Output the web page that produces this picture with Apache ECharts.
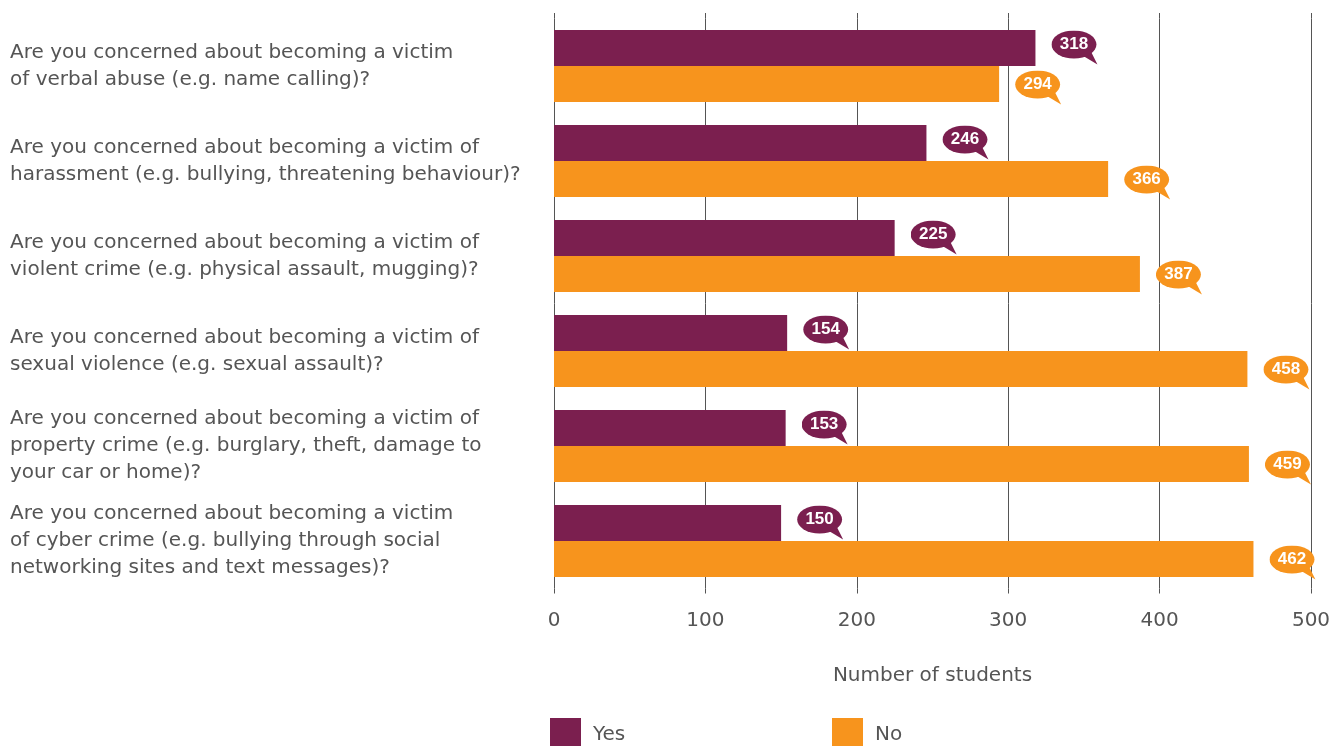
<!DOCTYPE html>
<html>
<head>
<meta charset="utf-8">
<script src="https://cdn.jsdelivr.net/npm/echarts@6/dist/echarts.min.js"></script>
<style>
  html, body { margin: 0; padding: 0; background: #fff; }
  #chart { width: 1336px; height: 746px; }
</style>
</head>
<body>
<div id="chart"></div>
<script>
// survey questions, top to bottom
var questions = [
    'Are you concerned about becoming a victim\nof verbal abuse (e.g. name calling)?',
    'Are you concerned about becoming a victim of\nharassment (e.g. bullying, threatening behaviour)?',
    'Are you concerned about becoming a victim of\nviolent crime (e.g. physical assault, mugging)?',
    'Are you concerned about becoming a victim of\nsexual violence (e.g. sexual assault)?',
    'Are you concerned about becoming a victim of\nproperty crime (e.g. burglary, theft, damage to\nyour car or home)?',
    'Are you concerned about becoming a victim\nof cyber crime (e.g. bullying through social\nnetworking sites and text messages)?'
];
var yesValues = [318, 246, 225, 154, 153, 150];
var noValues = [294, 366, 387, 458, 459, 462];
var seriesNames = ['Yes', 'No'];
var axisTitle = 'Number of students';

var PURPLE = '#7B1F4F';
var ORANGE = '#F7941D';
var TEXT = '#555555';
var FONT = 'DejaVu Sans';

// speech bubble used behind the value labels
function bubble(color) {
    var svg = "<svg xmlns='http://www.w3.org/2000/svg' width='48' height='35' viewBox='0 0 48 35'>" +
        "<path d='M31 25 L46 34 L39 20 Z' fill='" + color + "'/>" +
        "<ellipse cx='22.5' cy='14' rx='22.5' ry='14' fill='" + color + "'/></svg>";
    return 'data:image/svg+xml;charset=utf-8,' + encodeURIComponent(svg);
}

function bubbleLabel(color, dy) {
    return {
        show: true,
        position: 'right',
        distance: 16,
        offset: [0, dy],
        formatter: '{v|{c}}',
        backgroundColor: { image: bubble(color) },
        padding: [0, 3, 7, 0],
        rich: {
            v: {
                width: 45,
                height: 28,
                lineHeight: 28,
                align: 'center',
                verticalAlign: 'middle',
                color: '#fff',
                fontSize: 17,
                fontWeight: 'bold',
                fontFamily: 'Liberation Sans'
            }
        }
    };
}

var chart = echarts.init(document.getElementById('chart'));

var option = {
    animation: false,
    backgroundColor: '#fff',
    grid: { left: 554, right: 25, top: 18.5, height: 570, containLabel: false },
    legend: [
        {
            data: [seriesNames[0]], left: 545, top: 713, icon: 'rect',
            itemWidth: 31, itemHeight: 34,
            textStyle: { fontSize: 20, color: TEXT, fontFamily: FONT, padding: [0, 0, 0, 7] }
        },
        {
            data: [seriesNames[1]], left: 827, top: 713, icon: 'rect',
            itemWidth: 31, itemHeight: 34,
            textStyle: { fontSize: 20, color: TEXT, fontFamily: FONT, padding: [0, 0, 0, 7] }
        }
    ],
    xAxis: [
        {
            type: 'value', min: 0, max: 500, interval: 100, position: 'bottom',
            name: axisTitle, nameLocation: 'middle', nameGap: 77,
            nameTextStyle: { fontSize: 20, color: TEXT, fontFamily: FONT },
            axisLine: { show: false },
            axisTick: { show: true, length: 5, lineStyle: { color: TEXT, width: 1 } },
            axisLabel: { margin: 22, fontSize: 20, color: TEXT, fontFamily: FONT },
            splitLine: { show: true, lineStyle: { color: TEXT, width: 1 } }
        },
        {
            // only the short tick stubs above the plot
            type: 'value', min: 0, max: 500, interval: 100, position: 'top',
            axisLine: { show: false },
            axisTick: { show: true, length: 5.5, lineStyle: { color: TEXT, width: 1 } },
            axisLabel: { show: false },
            splitLine: { show: false }
        }
    ],
    yAxis: {
        type: 'category',
        inverse: true,
        data: questions,
        axisLine: { show: false },
        axisTick: { show: false },
        axisLabel: {
            align: 'left',
            margin: 544,
            fontSize: 20,
            lineHeight: 27,
            color: TEXT,
            fontFamily: FONT
        }
    },
    series: [
        {
            name: seriesNames[0],
            type: 'bar',
            data: yesValues,
            barWidth: 36,
            barGap: '0%',
            itemStyle: { color: PURPLE },
            label: bubbleLabel(PURPLE, 0)
        },
        {
            name: seriesNames[1],
            type: 'bar',
            data: noValues,
            barWidth: 36,
            barGap: '0%',
            itemStyle: { color: ORANGE },
            label: bubbleLabel(ORANGE, 4)
        }
    ]
};

chart.setOption(option);
</script>
</body>
</html>
